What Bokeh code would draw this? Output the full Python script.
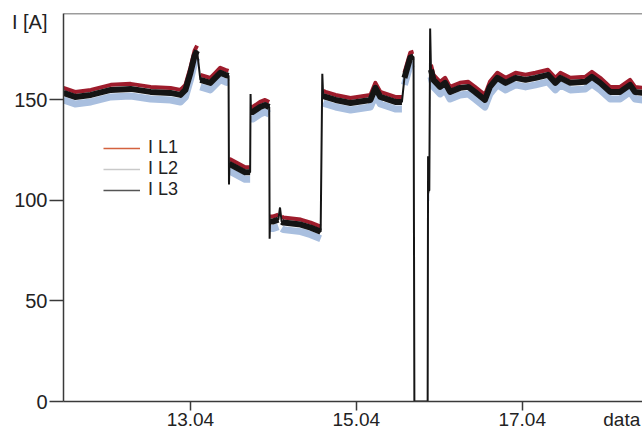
from bokeh.plotting import figure
from bokeh.models import Range1d, FixedTicker, Legend, LegendItem, Span, LinearAxis
from bokeh.embed import file_html
from bokeh.resources import INLINE

# time in days of April
days = [11.47, 11.61, 11.80, 12.04, 12.28, 12.52, 12.76, 12.88, 12.94, 13.00,
        13.05, 13.08, 13.12, 13.24, 13.30, 13.36, 13.42, 13.46, 13.465, 13.47,
        13.48, 13.66, 13.72, 13.725, 13.73, 13.75, 13.84, 13.90, 13.95, 13.955,
        13.96, 13.99, 14.06, 14.08, 14.10, 14.12, 14.33, 14.45, 14.57, 14.59,
        14.60, 14.63, 14.75, 14.93, 15.17, 15.23, 15.29, 15.47, 15.55, 15.58,
        15.65, 15.69, 15.70, 15.86, 15.865, 15.87, 15.88, 15.89, 15.90, 15.93,
        16.01, 16.07, 16.13, 16.25, 16.35, 16.43, 16.55, 16.61, 16.70, 16.80,
        16.92, 17.04, 17.16, 17.31, 17.40, 17.46, 17.58, 17.76, 17.84, 17.94,
        18.06, 18.18, 18.30, 18.36, 18.45]

i_l1 = [156, 154, 155, 157.5, 158, 156.5, 156, 155, 157.5, 166,
        174.5, 177, 162.5, 161, 163.5, 166, 165, 164.5, 108, 120.5,
        120.5, 116.5, 116.5, 153, 146.5, 146.5, 149, 150, 149, 81,
        92, 92, 93, 99, 92, 91.5, 90.5, 89, 87, 163,
        154.5, 154, 152.5, 151, 152.5, 158.5, 154, 151.5, 151.5, 163.5,
        173.5, 174, 0, 0, 122, 107.5, 107.5, 185.5, 167.5, 162.5,
        159, 161, 156.5, 158.5, 159, 156.5, 152.5, 159, 163.5, 161,
        163.5, 162.5, 163.5, 165, 161, 163.5, 161, 161.5, 164, 161,
        156.5, 156.5, 160, 156.5, 156]

i_l2 = [150, 148, 149, 151.5, 152, 150.5, 150, 149, 151.5, 160,
        168.5, 171, 156.5, 155, 157.5, 160, 159, 158.5, 108, 114.5,
        114.5, 110.5, 110.5, 153, 140.5, 140.5, 143, 144, 143, 81,
        86, 86, 87, 93, 86, 85.5, 84.5, 83, 81, 163,
        148.5, 148, 146.5, 145, 146.5, 152.5, 148, 145.5, 145.5, 157.5,
        167.5, 168, 0, 0, 122, 101.5, 101.5, 185.5, 161.5, 156.5,
        153, 155, 150.5, 152.5, 153, 150.5, 146.5, 153, 157.5, 155,
        157.5, 156.5, 157.5, 159, 155, 157.5, 155, 155.5, 158, 155,
        150.5, 150.5, 154, 150.5, 150]

i_l3 = [153.5, 151.5, 152.5, 155, 155.5, 154, 153.5, 152.5, 155, 163.5,
        172, 174.5, 160, 158.5, 161, 163.5, 162.5, 162, 108, 118,
        118, 114, 114, 153, 144, 144, 146.5, 147.5, 146.5, 81,
        89.5, 89.5, 90.5, 96.5, 89.5, 89, 88, 86.5, 84.5, 163,
        152, 151.5, 150, 148.5, 150, 156, 151.5, 149, 149, 161,
        171, 171.5, 0, 0, 122, 105, 105, 185.5, 165, 160,
        156.5, 158.5, 154, 156, 156.5, 154, 150, 156.5, 161, 158.5,
        161, 160, 161, 162.5, 158.5, 161, 158.5, 159, 161.5, 158.5,
        154, 154, 157.5, 154, 153.5]

x_ticks = [13, 15, 17]
x_tick_labels = ["13.04", "15.04", "17.04"]
y_ticks = [0, 50, 100, 150]
series_names = ["I L1", "I L2", "I L3"]
x_title = "data"
y_title = "I [A]"

X0, X1 = 11.47, 18.45
Y0, Y1 = 0, 193
X_TITLE_AT = 18.2     # axis titles sit in the tick-label rows, at the axis ends
Y_TITLE_AT = 188.6

FONT = "Liberation Sans"
AXIS_COLOR = "#3a3a3a"
TEXT_COLOR = "#222222"


def smooth_runs(xs, ys, max_rate=250.0):
    """Split a series into runs without near-vertical jumps (drawn as the
    thick noisy band); the jumps themselves are drawn as thin connectors."""
    runs_x, runs_y = [], []
    cur_x, cur_y = [], []
    for x, y in zip(xs, ys):
        if cur_y:
            steep = abs(y - cur_y[-1]) / max(x - cur_x[-1], 1e-9) > max_rate
            if steep or y == 0:
                if len(cur_x) > 1:
                    runs_x.append(cur_x)
                    runs_y.append(cur_y)
                cur_x, cur_y = [], []
        if y != 0:
            cur_x.append(x)
            cur_y.append(y)
    if len(cur_x) > 1:
        runs_x.append(cur_x)
        runs_y.append(cur_y)
    return runs_x, runs_y


p = figure(width=642, height=432, output_backend="svg", toolbar_location=None,
           x_range=Range1d(X0, X1), y_range=Range1d(Y0, Y1),
           min_border_left=63, min_border_right=0, min_border_top=13,
           min_border_bottom=29)
p.grid.visible = False
p.outline_line_color = None
p.background_fill_color = "white"
p.border_fill_color = "white"

# inner axes: axis line and tick marks only (ticks given as minor ticks, so no labels)
p.xaxis.ticker = FixedTicker(ticks=[], minor_ticks=x_ticks)
p.yaxis.ticker = FixedTicker(ticks=[], minor_ticks=y_ticks)
for ax in (p.xaxis, p.yaxis):
    ax.axis_line_color = AXIS_COLOR
    ax.axis_line_width = 1.5
    ax.major_tick_line_color = None
    ax.minor_tick_line_color = AXIS_COLOR
    ax.minor_tick_line_width = 1.5
    ax.minor_tick_in = 0
    ax.major_label_standoff = 0
p.yaxis.minor_tick_out = 14
p.xaxis.minor_tick_out = 9

# outer axes: the labels (tick labels plus the axis titles at the axis ends)
x_lab = LinearAxis(ticker=FixedTicker(ticks=x_ticks + [X_TITLE_AT]),
                   major_label_overrides={**{t: l for t, l in zip(x_ticks, x_tick_labels)},
                                          X_TITLE_AT: x_title})
y_lab = LinearAxis(ticker=FixedTicker(ticks=y_ticks + [Y_TITLE_AT]),
                   major_label_overrides={Y_TITLE_AT: y_title})
for ax in (x_lab, y_lab):
    ax.axis_line_color = None
    ax.major_tick_line_color = None
    ax.minor_tick_line_color = None
    ax.major_tick_out = 0
    ax.major_tick_in = 0
    ax.major_label_text_font = FONT
    ax.major_label_text_color = TEXT_COLOR
x_lab.major_label_text_font_size = "19px"
x_lab.major_label_standoff = -2
y_lab.major_label_text_font_size = "20px"
y_lab.major_label_standoff = 2
p.add_layout(x_lab, "below")
p.add_layout(y_lab, "left")

p.add_layout(Span(location=Y1, dimension="width", line_color=AXIS_COLOR, line_width=1.5))

styles = [("#a9bfdf", 7, i_l2), ("#9e1c2c", 4, i_l1), ("#151515", 6, i_l3)]
for color, width, ys in styles:
    rx, ry = smooth_runs(days, ys)
    p.multi_line(rx, ry, line_color=color, line_width=width, line_join="round")
# thin connectors for the sudden jumps
p.line(days, i_l3, line_color="#151515", line_width=2)

# legend-only renderers (a single undefined point, nothing drawn)
nan = float("nan")
r1 = p.line([days[0]], [nan], line_color="#d4623e", line_width=1.5)
r2 = p.line([days[0]], [nan], line_color="#c9c9c9", line_width=1.5)
r3 = p.line([days[0]], [nan], line_color="#555555", line_width=1.5)
legend = Legend(items=[LegendItem(label=n, renderers=[r]) for n, r in zip(series_names, [r1, r2, r3])],
                location=(40, 201), background_fill_alpha=0, border_line_color=None,
                padding=0, margin=0, spacing=0, glyph_width=37, glyph_height=20,
                label_height=20, label_standoff=8, label_text_font=FONT,
                label_text_font_size="18px", label_text_color=TEXT_COLOR)
p.add_layout(legend, "center")

open("out.html", "w").write(file_html(p, INLINE))
